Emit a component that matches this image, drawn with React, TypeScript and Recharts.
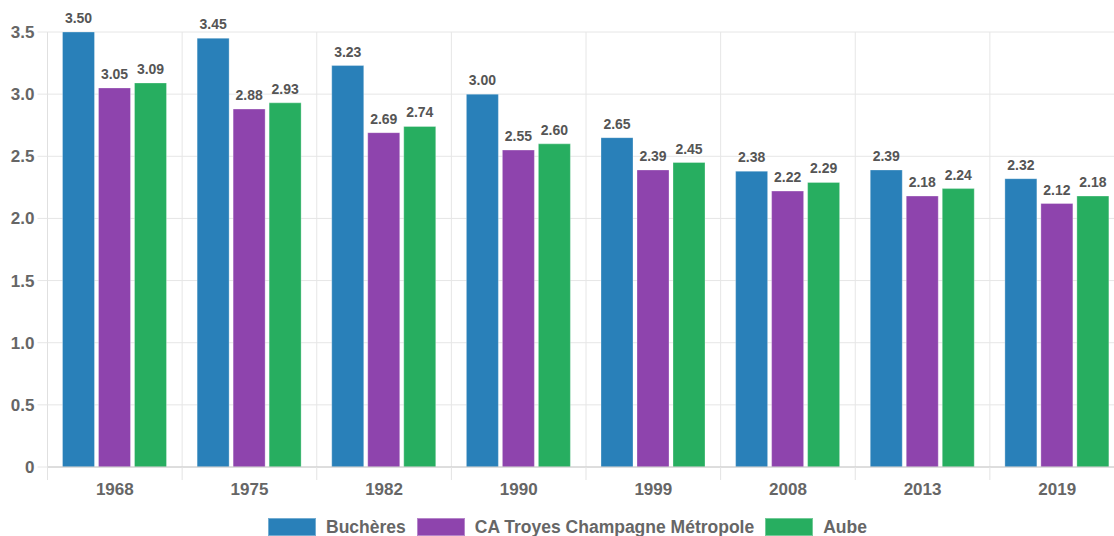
import { BarChart, Bar, XAxis, YAxis, CartesianGrid, Legend, LabelList } from 'recharts';

const years = ['1968', '1975', '1982', '1990', '1999', '2008', '2013', '2019'];
const bucheres = [3.5, 3.45, 3.23, 3.0, 2.65, 2.38, 2.39, 2.32];
const caTroyes = [3.05, 2.88, 2.69, 2.55, 2.39, 2.22, 2.18, 2.12];
const aube = [3.09, 2.93, 2.74, 2.6, 2.45, 2.29, 2.24, 2.18];
const yTicks = [0, 0.5, 1, 1.5, 2, 2.5, 3, 3.5];

const series = [
  { key: 'bucheres', name: 'Buchères', color: '#2980b9' },
  { key: 'caTroyes', name: 'CA Troyes Champagne Métropole', color: '#8e44ad' },
  { key: 'aube', name: 'Aube', color: '#27ae60' },
];

const data = years.map((y, i) => ({
  year: y,
  bucheres: bucheres[i],
  caTroyes: caTroyes[i],
  aube: aube[i],
}));

const FONT = '"Liberation Sans", Arial, Helvetica, sans-serif';
const CHART_W = 1135;
const CHART_H = 536;

const ValueLabel = (props: any) => {
  const { x, y, width, value } = props;
  if (value === null || value === undefined) return null;
  return (
    <text
      x={x + width / 2}
      y={y - 9}
      textAnchor="middle"
      fontSize={14}
      fontWeight="bold"
      fill="#555"
      fontFamily={FONT}
    >
      {Number(value).toFixed(2)}
    </text>
  );
};

// year label plus the small tick marks at the category boundaries
const YearTick = (props: any) => {
  const { x, y, payload, index, width } = props;
  const half = payload && payload.offset ? payload.offset : width / years.length / 2;
  return (
    <g>
      <line x1={x - half} x2={x - half} y1={y} y2={y + 13} stroke="#e3e3e3" />
      {index === years.length - 1 && (
        <line x1={x + half} x2={x + half} y1={y} y2={y + 13} stroke="#e3e3e3" />
      )}
      <text
        x={x}
        y={y + 27.5}
        textAnchor="middle"
        fontSize={17}
        fontWeight="bold"
        fill="#666"
        fontFamily={FONT}
      >
        {payload.value}
      </text>
    </g>
  );
};

const renderLegend = () => (
  <div
    style={{
      display: 'flex',
      justifyContent: 'center',
      alignItems: 'center',
      paddingTop: 20,
      fontFamily: FONT,
      fontSize: 17.5,
      fontWeight: 'bold',
      color: '#666',
      lineHeight: '18px',
    }}
  >
    {series.map((s, i) => (
      <div key={s.key} style={{ display: 'flex', alignItems: 'center', marginLeft: i === 0 ? 0 : 11 }}>
        <span
          style={{
            display: 'inline-block',
            width: 48,
            height: 18,
            background: s.color,
            boxSizing: 'border-box',
            border: '1px solid rgba(255,255,255,0.35)',
            marginRight: 10,
          }}
        />
        <span>{s.name}</span>
      </div>
    ))}
  </div>
);

export default function App() {
  return (
    <div
      style={{
        position: 'absolute',
        left: 0,
        top: 0,
        width: 1114,
        height: CHART_H,
        overflow: 'hidden',
        background: '#fff',
      }}
    >
      <BarChart
        width={CHART_W}
        height={CHART_H}
        data={data}
        margin={{ top: 32, right: 10.5, left: 0, bottom: 0 }}
        barCategoryGap={15}
        barGap={4}
      >
        <CartesianGrid
          stroke="#e6e6e6"
          verticalCoordinatesGenerator={({ offset }: any) =>
            Array.from({ length: years.length + 1 }, (_, i) => offset.left + (i * offset.width) / years.length)
          }
        />
        <XAxis
          dataKey="year"
          height={31}
          tickSize={0}
          tickMargin={0}
          tickLine={false}
          axisLine={{ stroke: '#c8c8c8' }}
          tick={<YearTick />}
          interval={0}
        />
        <YAxis
          width={47.5}
          domain={[0, 3.5]}
          ticks={yTicks}
          tickSize={10}
          tickMargin={3}
          tickLine={{ stroke: '#e6e6e6' }}
          axisLine={{ stroke: '#e0e0e0' }}
          tickFormatter={(v: number) => (v === 0 ? '0' : v.toFixed(1))}
          tick={{ fontSize: 17, fontWeight: 'bold', fill: '#666', fontFamily: FONT }}
        />
        <Legend
          verticalAlign="bottom"
          height={38}
          content={renderLegend}
          wrapperStyle={{ left: 0, width: CHART_W }}
        />
        {series.map((s) => (
          <Bar
            key={s.key}
            dataKey={s.key}
            name={s.name}
            fill={s.color}
            stroke="rgba(255,255,255,0.3)"
            strokeWidth={1}
            isAnimationActive={false}
          >
            <LabelList dataKey={s.key} content={<ValueLabel />} />
          </Bar>
        ))}
      </BarChart>
    </div>
  );
}
